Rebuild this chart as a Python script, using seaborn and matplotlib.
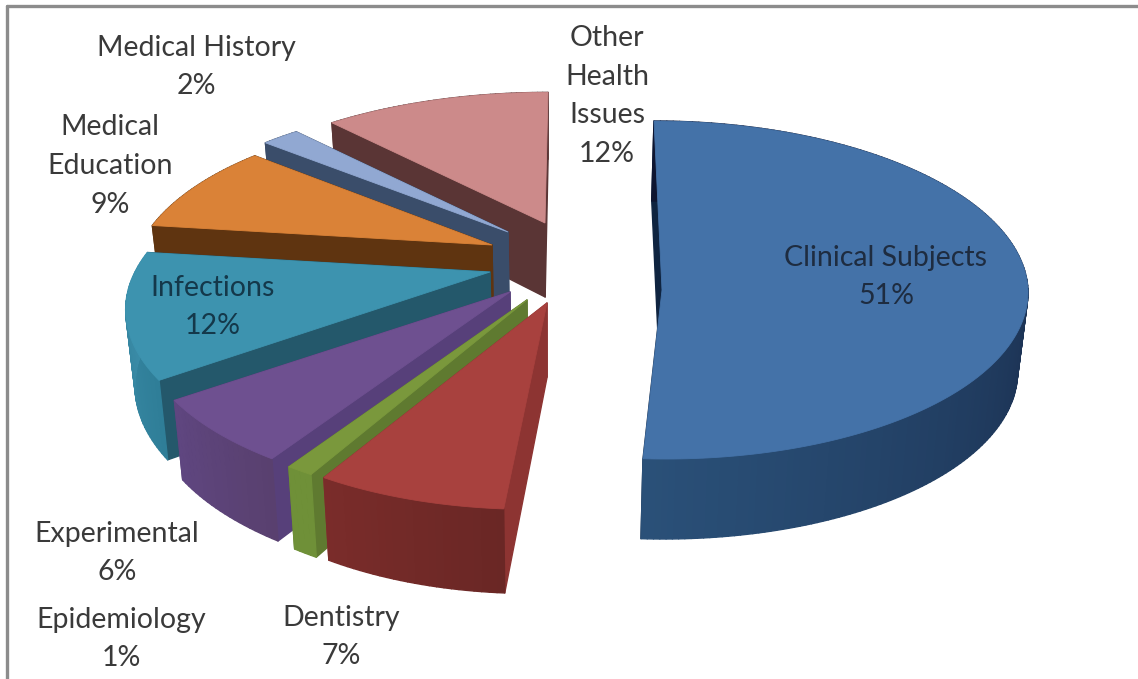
import numpy as np
import matplotlib
matplotlib.use('Agg')
import matplotlib.pyplot as plt
import seaborn as sns

# shares in percent, clockwise from 12 o'clock
categories = ['Clinical Subjects', 'Dentistry', 'Epidemiology', 'Experimental', 'Infections',
              'Medical\nEducation', 'Medical History', 'Other\nHealth\nIssues']
values = [51, 7, 1, 6, 12, 9, 2, 12]

top_colors = ['#4472A8', '#A8413E', '#7A983C', '#6E5090', '#3D93AF', '#DA8237', '#91A8D2', '#CC8A8A']
cut_colors = ['#0F2440', '#8D3432', '#5F7A30', '#57407A', '#24586B', '#5F3410', '#3A4D6A', '#5A3535']
rim_start = ['#0E1530', '#6A2725', '#6F9038', '#59406F', '#2F7E98', '#5F3410', '#3A4D6A', '#5A3535']
rim_end = ['#2A5078', '#7A2C2A', '#6F9038', '#5F4680', '#3D8FAB', '#5F3410', '#3A4D6A', '#5A3535']
text_colors = ['#1E2C40', '#3A3A3A', '#3A3A3A', '#3A3A3A', '#14384A', '#3A3A3A', '#3A3A3A', '#3A3A3A']

# layout of the exploded pie, in pixels
pie_cx, pie_cy = 552, 262
explode_x = [110, -5, -25, -42, -62, -60, -44, -7]
explode_y = [28, 41, 38, 30, 10, -17, -30, -39]
radius_x = [366, 350, 360, 360, 355, 352, 360, 366]
radius_y = [169, 160, 160, 160, 160, 160, 160, 160]
persp = [0, .225, .225, .225, .225, .225, .225, .225]
skew_far = [-8, 0, 0, 0, 0, 0, 0, 3]
skew_near = [-4, 15, 0, 0, 0, 0, 0, 0]
depth = [80, 74, 74, 74, 74, 74, 74, 74]
converge = .022  # the lower edge leans in towards the middle

label_x = [886, 341, 121, 117, 213, 110, 196, 607]
label_y = [277, 637, 639, 553, 307, 166, 67, 96]

sns.set_theme(style='white')
plt.rcParams['font.family'] = ['Lato', 'DejaVu Sans']

fig = plt.figure(figsize=(11.38, 6.79), dpi=100, facecolor='white')
ax = fig.add_axes([0, 0, 1, 1])
ax.set_xlim(0, 1138)
ax.set_ylim(679, 0)
ax.axis('off')

# grey frame, only left and top show in the picture
ax.plot([7, 7], [679, 5.5], color='#8C8C8C', lw=2.4)
ax.plot([7, 1138], [5.5, 5.5], color='#8C8C8C', lw=2.4)


def project(i, theta, r=1.0, lower=False):
    u = r * np.sin(theta)
    v = r * np.cos(theta)
    w = 1 + persp[i] * v
    lean = np.where(v > 0, skew_far[i], skew_near[i]) * v
    x = pie_cx + explode_x[i] + radius_x[i] * u / w + lean
    y = pie_cy + explode_y[i] - radius_y[i] * v / w
    if lower:
        x = x + (pie_cx - x) * converge
        y = y + depth[i] / np.sqrt(w)
    return x, y


def quad(p1, p2, p3, p4, color):
    ax.fill([p1[0], p2[0], p3[0], p4[0]], [p1[1], p2[1], p3[1], p4[1]],
            color=color, lw=1.0, joinstyle='round')


edges = np.radians(np.cumsum([0] + values) * 3.6)

# back slices first, the nearer ones paint over them
for i in range(len(values) - 1, -1, -1):
    t0, t1 = edges[i], edges[i + 1]
    n = max(4, int(np.degrees(t1 - t0)))
    thetas = np.linspace(t0, t1, n + 1)

    # the two cut faces
    for t in (t0, t1):
        quad(project(i, t, 0), project(i, t), project(i, t, lower=True), project(i, t, 0, lower=True),
             cut_colors[i])

    # rim, in small steps for the shading
    shades = sns.blend_palette([rim_start[i], rim_end[i]], n)
    for k in range(n):
        quad(project(i, thetas[k]), project(i, thetas[k + 1]),
             project(i, thetas[k + 1], lower=True), project(i, thetas[k], lower=True), shades[k])

    # top face
    xs, ys = project(i, thetas)
    hx, hy = project(i, 0, 0)
    ax.fill(np.r_[hx, xs], np.r_[hy, ys], color=top_colors[i], lw=0.6)

for i in range(len(values)):
    ax.text(label_x[i], label_y[i], f'{categories[i]}\n{values[i]}%', ha='center', va='center',
            multialignment='center', fontsize=20.5, color=text_colors[i], linespacing=1.6)

fig.savefig('out.png', dpi=100)
